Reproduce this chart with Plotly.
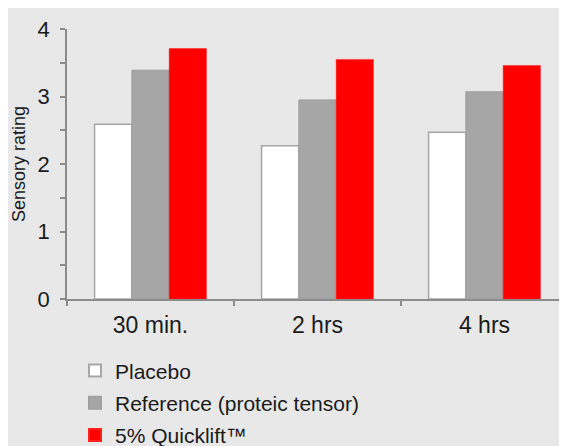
import plotly.graph_objects as go

categories = ["30 min.", "2 hrs", "4 hrs"]
placebo = [2.59, 2.27, 2.47]
reference = [3.39, 2.95, 3.07]
quicklift = [3.71, 3.55, 3.46]
series_names = ["Placebo", "Reference (proteic tensor)", "5% Quicklift™"]
y_tickvals = [0, 0.5, 1, 1.5, 2, 2.5, 3, 3.5, 4]
y_ticktext = ["0", "", "1", "", "2", "", "3", "", "4"]

BG = "#e8e8e8"
TXT = "#1a1a1a"
AX = "#8c8c8c"
FONT = "Liberation Sans, Arial, sans-serif"

fig = go.Figure()
fig.add_trace(go.Bar(x=categories, y=placebo, name=series_names[0], legendgroup="a",
                     marker=dict(color="#ffffff", line=dict(color="#a6a6a6", width=1.5))))
fig.add_trace(go.Bar(x=categories, y=reference, name=series_names[1], legendgroup="b",
                     marker=dict(color="#a6a6a6", line=dict(color="#a0a0a0", width=1))))
fig.add_trace(go.Bar(x=categories, y=quicklift, name=series_names[2], legendgroup="c",
                     marker=dict(color="#ff0000", line=dict(color="#ff2020", width=0.5))))

fig.update_layout(
    width=567, height=446,
    margin=dict(l=59, r=7, t=21, b=155, pad=0, autoexpand=False),
    paper_bgcolor=BG,
    plot_bgcolor=BG,
    bargap=0.33, bargroupgap=0,
    font=dict(family=FONT, color=TXT, size=21),
    showlegend=True,
    legend=dict(x=0.016, y=-0.19, xanchor="left", yanchor="top",
                bgcolor="rgba(0,0,0,0)", font=dict(size=21, color=TXT),
                tracegroupgap=2, itemsizing="constant"),
)
fig.update_xaxes(
    showline=True, linecolor=AX, linewidth=1.5,
    ticks="outside", tickson="boundaries", ticklen=5, tickcolor=AX, tickwidth=1.5,
    tickfont=dict(size=23, color=TXT), showgrid=False, zeroline=False,
    ticklabelstandoff=5,
)
fig.update_yaxes(
    range=[0, 4], tickmode="array", tickvals=y_tickvals, ticktext=y_ticktext,
    showline=True, linecolor=AX, linewidth=1.5,
    ticks="outside", ticklen=5, tickcolor=AX, tickwidth=1.5,
    tickfont=dict(size=22, color=TXT), showgrid=False, zeroline=False,
    ticklabelstandoff=6,
    title=dict(text="Sensory rating", font=dict(size=18, color=TXT), standoff=7),
)

fig.write_html("out.html")
